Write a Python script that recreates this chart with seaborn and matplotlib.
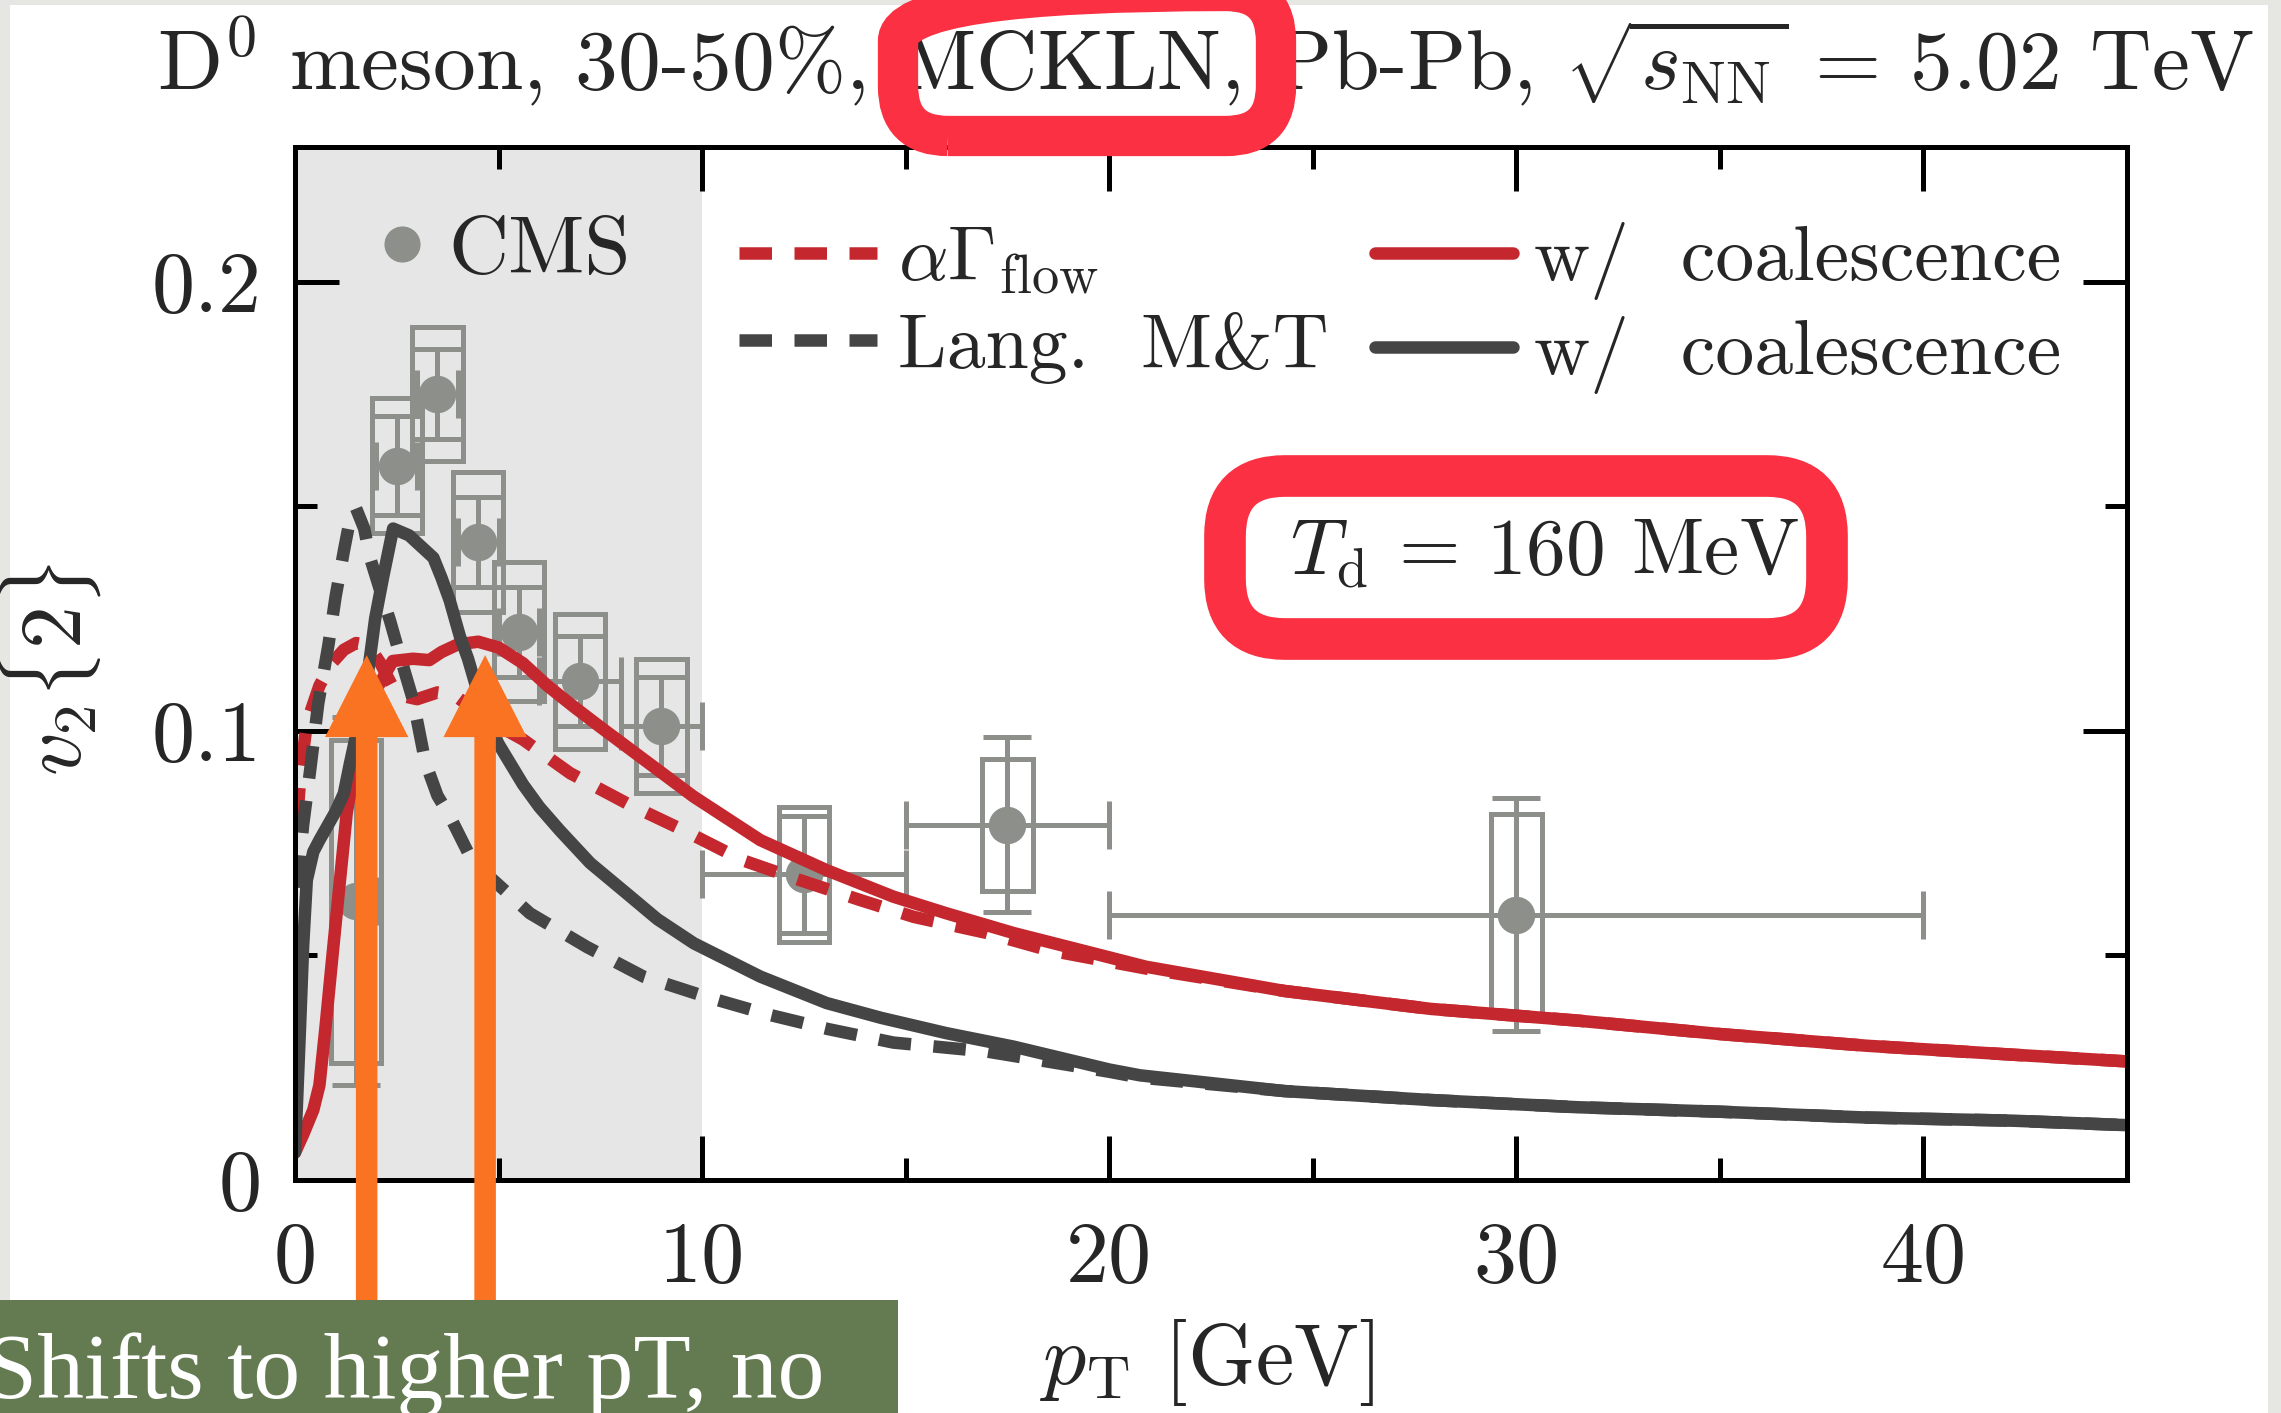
import numpy as np
import pandas as pd
import matplotlib
matplotlib.use("Agg")
import matplotlib.pyplot as plt
from matplotlib.patches import Rectangle, FancyBboxPatch, FancyArrowPatch, ArrowStyle
from matplotlib.lines import Line2D
from matplotlib.transforms import IdentityTransform
import seaborn as sns

# ---------------- data ----------------
# CMS D0 v2{2}, 30-50 %, Pb-Pb 5.02 TeV
cms_pt = [1.5, 2.5, 3.5, 4.5, 5.5, 7.0, 9.0, 12.5, 17.5, 30.0]
cms_pt_err = [0.5, 0.5, 0.5, 0.5, 0.5, 1.0, 1.0, 2.5, 2.5, 10.0]
cms_v2 = [0.062, 0.159, 0.175, 0.142, 0.122, 0.111, 0.101, 0.068, 0.079, 0.059]
cms_stat = [0.041, 0.011, 0.010, 0.010, 0.010, 0.010, 0.011, 0.013, 0.0195, 0.026]
cms_syst = [0.036, 0.015, 0.015, 0.0155, 0.0155, 0.015, 0.015, 0.015, 0.0147, 0.0225]

# alpha*Gamma_flow model, no coalescence
agf_pt = [0.05, 0.15, 0.3, 0.6, 0.9, 1.2, 1.5, 1.8, 2.1, 2.5, 3.0, 3.5, 3.9, 4.5,
          5.0, 5.6, 6.76, 8.15, 9.54, 11.0, 12.4, 13.9, 15.2, 17.0, 18.5, 20.9,
          24.3, 27.9, 31.5, 35.0, 38.6, 42.2, 45.0]
agf_v2 = [0.080, 0.092, 0.102, 0.110, 0.115, 0.118, 0.1195, 0.119, 0.115, 0.108,
          0.107, 0.1085, 0.108, 0.104, 0.101, 0.098, 0.0905, 0.0838, 0.0778,
          0.0711, 0.0667, 0.0622, 0.0585, 0.0549, 0.0511, 0.0470, 0.0420,
          0.0380, 0.0354, 0.0324, 0.0298, 0.0278, 0.0263]

# alpha*Gamma_flow model with coalescence
agf_coal_pt = [0.0, 0.2, 0.45, 0.6, 0.75, 0.9, 1.02, 1.27, 1.47, 1.75, 2.05,
               2.4, 2.9, 3.3, 3.6, 4.0, 4.5, 5.0, 5.6, 6.2, 6.85, 7.5, 8.15,
               9.79, 11.43, 13.06, 14.7, 16.0, 17.65, 19.3, 20.9, 24.3, 27.9,
               31.5, 35.0, 38.6, 42.2, 45.0]
agf_coal_v2 = [0.006, 0.010, 0.0155, 0.021, 0.034, 0.048, 0.059, 0.0816, 0.092,
               0.103, 0.110, 0.1155, 0.116, 0.1157, 0.1175, 0.1192, 0.1198,
               0.1185, 0.115, 0.110, 0.1053, 0.1008, 0.0964, 0.0853, 0.0756,
               0.0689, 0.0630, 0.0593, 0.0549, 0.0511, 0.0474, 0.0420, 0.0380,
               0.0354, 0.0324, 0.0298, 0.0278, 0.0263]

# Langevin M&T, no coalescence
lang_pt = [0.05, 0.2, 0.37, 0.57, 0.82, 1.0, 1.2, 1.35, 1.5, 1.7, 1.84, 2.1,
           2.33, 2.6, 2.9, 3.2, 3.5, 3.8, 4.38, 4.71, 5.77, 7.17, 8.56, 10.1,
           11.6, 13.1, 14.7, 17.0, 20.0, 20.76, 24.3, 27.9, 31.5, 35.0, 38.6,
           42.2, 45.0]
lang_v2 = [0.065, 0.079, 0.091, 0.106, 0.119, 0.130, 0.140, 0.147, 0.1495,
           0.145, 0.1386, 0.131, 0.1246, 0.116, 0.1068, 0.093, 0.0855, 0.081,
           0.0705, 0.068, 0.0593, 0.0518, 0.0452, 0.0407, 0.0368, 0.0335,
           0.0305, 0.0285, 0.0240, 0.0227, 0.0197, 0.0177, 0.0161, 0.0151,
           0.0138, 0.0131, 0.0121]

# Langevin M&T with coalescence
lang_coal_pt = [0.0, 0.12, 0.2, 0.29, 0.45, 0.6, 1.0, 1.2, 1.35, 1.72, 1.97,
                2.16, 2.41, 2.8, 3.1, 3.4, 3.6, 3.8, 4.05, 4.25, 4.62, 5.0, 5.6,
                6.0, 6.5, 7.25, 8.15, 8.9, 9.8, 11.43, 13.06, 14.4, 16.0, 17.65,
                20.0, 20.76, 24.3, 27.9, 31.5, 35.0, 38.6, 42.2, 45.0]
lang_coal_v2 = [0.006, 0.033, 0.052, 0.0667, 0.073, 0.0756, 0.082, 0.086,
                0.0927, 0.108, 0.125, 0.134, 0.145, 0.1435, 0.141, 0.1385,
                0.134, 0.129, 0.121, 0.116, 0.1045, 0.097, 0.088, 0.083, 0.0778,
                0.0705, 0.0637, 0.0580, 0.0526, 0.0452, 0.0393, 0.0360, 0.0326,
                0.0296, 0.0245, 0.0232, 0.0197, 0.0177, 0.0161, 0.0151, 0.0138,
                0.0131, 0.0121]

# peak positions highlighted by the arrows
peak_pt = [1.76, 4.67]
peak_tip_v2 = 0.1168

x_ticks = [0, 10, 20, 30, 40]
y_ticks = [0, 0.1, 0.2]
y_tick_labels = ["0", "0.1", "0.2"]

# ---------------- style ----------------
sns.set_style("ticks")
plt.rcParams["font.family"] = ["cmr10", "DejaVu Serif"]
plt.rcParams["mathtext.fontset"] = "cm"
plt.rcParams["axes.unicode_minus"] = False
plt.rcParams["axes.formatter.use_mathtext"] = True

RED = "#c4282e"
DARK = "#454545"
GRAY = "#8d8f8b"
ORANGE = "#f97322"
MARK = "#fb3042"
GREEN = "#647b52"
DASH = (0, (2.6, 1.8))
LW = 9

W, H = 2281, 1413
fig = plt.figure(figsize=(W / 100, H / 100), dpi=100)
fig.patch.set_facecolor("#e6e6e2")
px = IdentityTransform()
fig.add_artist(Rectangle((10, 0), 2258, H - 5, transform=px,
                         facecolor="white", edgecolor="none", zorder=-10))

ax = fig.add_axes([295 / W, 1 - 1179.5 / H, 1832 / W, 1032.5 / H])
ax.set_facecolor("white")
ax.set_xlim(0, 45)
ax.set_ylim(0, 0.23)

# low-pT region shading
ax.axvspan(0, 10, color="#e6e6e6", zorder=0, lw=0)

# CMS systematic boxes
for p, v, s in zip(cms_pt, cms_v2, cms_syst):
    ax.add_patch(Rectangle((p - 0.62, v - s), 1.24, 2 * s, facecolor="none",
                           edgecolor=GRAY, lw=3.6, zorder=2))
# CMS statistical errors and markers
ax.errorbar(cms_pt, cms_v2, xerr=cms_pt_err, yerr=cms_stat, fmt="none",
            ecolor=GRAY, elinewidth=3.6, capsize=17, capthick=3.6, zorder=2)
sns.scatterplot(x=cms_pt, y=cms_v2, ax=ax, color=GRAY, s=27 ** 2,
                linewidth=0, zorder=3, legend=False)

# model curves
curves = [
    (agf_pt, agf_v2, RED, DASH),
    (lang_pt, lang_v2, DARK, DASH),
    (agf_coal_pt, agf_coal_v2, RED, "-"),
    (lang_coal_pt, lang_coal_v2, DARK, "-"),
]
for xs, ys, c, ls in curves:
    sns.lineplot(x=xs, y=ys, ax=ax, color=c, lw=LW, linestyle=ls,
                 zorder=4, legend=False, estimator=None, sort=False)

# arrows marking the peaks
for p in peak_pt:
    ax.add_patch(FancyArrowPatch(
        (p, -0.03), (p, peak_tip_v2),
        arrowstyle=ArrowStyle.Simple(head_length=59, head_width=60, tail_width=15.5),
        mutation_scale=1, shrinkA=0, shrinkB=0, color=ORANGE, lw=0,
        clip_on=False, zorder=10))

# axes frame and ticks
for sp in ax.spines.values():
    sp.set_linewidth(3.6)
    sp.set_color("black")
    sp.set_zorder(6)
ax.set_xticks(x_ticks)
ax.set_xticklabels([str(t) for t in x_ticks])
ax.set_xticks([5, 15, 25, 35, 45], minor=True)
ax.set_yticks(y_ticks)
ax.set_yticklabels(y_tick_labels)
ax.set_yticks([0.05, 0.15], minor=True)
ax.tick_params(which="both", direction="in", top=True, right=True,
               width=3.6, color="black", labelsize=62)
ax.tick_params(which="major", length=32)
ax.tick_params(which="minor", length=16)
ax.tick_params(axis="x", which="major", pad=30)
ax.tick_params(axis="y", which="major", pad=24)

ax.set_xlabel(r"$p_{\rm T}$ [GeV]", fontsize=62)
ax.xaxis.set_label_coords(0.4978, -0.133)
ax.set_ylabel(r"$v_2\{2\}$", fontsize=62)
ax.yaxis.set_label_coords(-0.105, 0.494)

# legends
cms_handle = Line2D([], [], ls="none", marker="o", ms=25, color=GRAY)
leg1 = ax.legend([cms_handle], ["CMS"], loc="upper left",
                 bbox_to_anchor=(0.045, 0.934), frameon=False, fontsize=60,
                 handlelength=0.6, handletextpad=0.25, borderpad=0,
                 borderaxespad=0)
ax.add_artist(leg1)
line_handles = [Line2D([], [], color=c, lw=LW, ls=ls) for _, _, c, ls in curves]
ax.legend(line_handles,
          [r"$\alpha\Gamma_{\rm flow}$", "Lang.  M&T",
           "w/  coalescence", "w/  coalescence"],
          ncol=2, loc="upper left", bbox_to_anchor=(0.2424, 0.927),
          frameon=False, fontsize=56, handlelength=1.77, handletextpad=0.27,
          columnspacing=0.6, labelspacing=0.2, borderpad=0, borderaxespad=0)

ax.text(30.7, 0.1395, r"$T_{\rm d}$ = 160 MeV", fontsize=57,
        ha="center", va="center", zorder=7)

# title
fig.text(157, H - 90, r"D$^0$ meson, 30-50%, MCKLN, Pb-Pb, $\sqrt{s_{\rm NN}}$ = 5.02 TeV",
         transform=px, fontsize=61.5, ha="left", va="baseline")

# hand-drawn highlight frames
fig.add_artist(FancyBboxPatch((898, H - 136), 378, 145, transform=px,
                              boxstyle="round,pad=0,rounding_size=50",
                              facecolor="none", edgecolor=MARK, lw=29, zorder=20))
fig.add_artist(FancyBboxPatch((1225, H - 639), 602, 163, transform=px,
                              boxstyle="round,pad=0,rounding_size=60",
                              facecolor="none", edgecolor=MARK, lw=30, zorder=20))

# caption box
fig.add_artist(Rectangle((0, 0), 898, 113, transform=px, facecolor=GREEN,
                         edgecolor="none", zorder=30))
fig.text(-15, 15, "Shifts to higher pT, no", transform=px, color="white",
         fontsize=67.5, family="Liberation Serif", ha="left", va="baseline",
         zorder=31)

fig.savefig("out.png", dpi=100)
